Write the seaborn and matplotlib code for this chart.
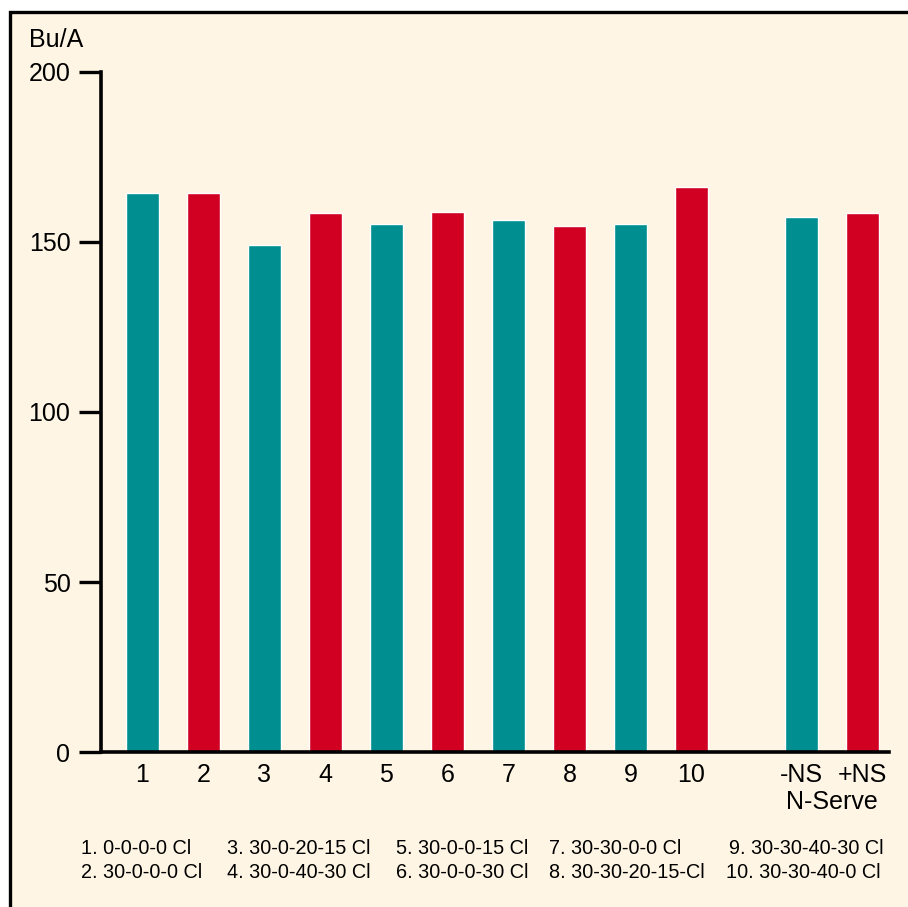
import matplotlib
matplotlib.use("Agg")
import matplotlib.pyplot as plt
from matplotlib.patches import Rectangle
import numpy as np
import pandas as pd
import seaborn as sns

# Corn yield (bushels per acre) by N / Cl treatment and N-Serve use
treatments = ["1", "2", "3", "4", "5", "6", "7", "8", "9", "10"]
nserve = ["-NS", "+NS"]
treatment_yield = [164.4, 164.4, 149.0, 158.5, 155.2, 158.8, 156.4, 154.6, 155.2, 166.1]
nserve_yield = [157.3, 158.5]
y_ticks = [0, 50, 100, 150, 200]

key_row1 = ["1. 0-0-0-0 Cl", "3. 30-0-20-15 Cl", "5. 30-0-0-15 Cl", "7. 30-30-0-0 Cl", "9. 30-30-40-30 Cl"]
key_row2 = ["2. 30-0-0-0 Cl", "4. 30-0-40-30 Cl", "6. 30-0-0-30 Cl", "8. 30-30-20-15-Cl", "10. 30-30-40-0 Cl"]

TEAL = "#008E90"
RED = "#D10022"
CREAM = "#FFF5E4"

sns.set_theme(style="ticks")
plt.rcParams["font.family"] = ["Liberation Sans", "DejaVu Sans"]
plt.rcParams["text.color"] = "black"

labels = treatments + nserve
values = treatment_yield + nserve_yield
# treatments sit on consecutive slots, the N-Serve pair after a wider gap
pos = np.concatenate([np.arange(len(treatments)),
                      len(treatments) + 0.8 + np.arange(len(nserve))])
groups = ["even" if i % 2 == 0 else "odd" for i in range(len(labels))]

df = pd.DataFrame({"pos": pos, "yield": values, "group": groups})

fig = plt.figure(figsize=(9.08, 9.07), dpi=100, facecolor="white")
fig.patches.append(Rectangle((10 / 908, -0.05), 1.2, 1 - 12 / 907 + 0.05,
                             transform=fig.transFigure, facecolor=CREAM,
                             edgecolor="black", linewidth=2.4, zorder=-10))

ax = fig.add_axes([101 / 908, 1 - 752 / 907, (889 - 101) / 908, (752 - 72) / 907])
ax.set_facecolor("none")

sns.barplot(data=df, x="pos", y="yield", hue="group",
            palette={"even": TEAL, "odd": RED}, native_scale=True,
            dodge=False, width=0.54, saturation=1, errorbar=None,
            legend=False, ax=ax)

ax.set_xlim(-0.68, 12.24)
ax.set_ylim(0, 200)
ax.set_yticks(y_ticks)
ax.set_yticklabels([str(t) for t in y_ticks], fontsize=18)
ax.set_xticks(pos)
ax.set_xticklabels(labels, fontsize=18)
ax.set_xlabel("")
ax.set_ylabel("")

for side in ("top", "right"):
    ax.spines[side].set_visible(False)
for side in ("left", "bottom"):
    ax.spines[side].set_linewidth(2.6)
    ax.spines[side].set_color("black")

ax.tick_params(axis="y", length=16, width=2.4, pad=6, color="black", labelcolor="black")
ax.tick_params(axis="x", length=0, pad=8, labelcolor="black")

fig.text(29 / 908, 1 - 40 / 907, "Bu/A", fontsize=18, ha="left", va="center")
fig.text(832 / 908, 1 - 802 / 907, "N-Serve", fontsize=18, ha="center", va="center")

col_x = [81, 227, 396, 549, 729]
row2_x = [81, 227, 396, 549, 726]
for x, t in zip(col_x, key_row1):
    fig.text(x / 908, 1 - 848 / 907, t, fontsize=14.3, ha="left", va="center")
for x, t in zip(row2_x, key_row2):
    fig.text(x / 908, 1 - 873 / 907, t, fontsize=14.3, ha="left", va="center")

fig.savefig("out.png", dpi=100, facecolor="white")
